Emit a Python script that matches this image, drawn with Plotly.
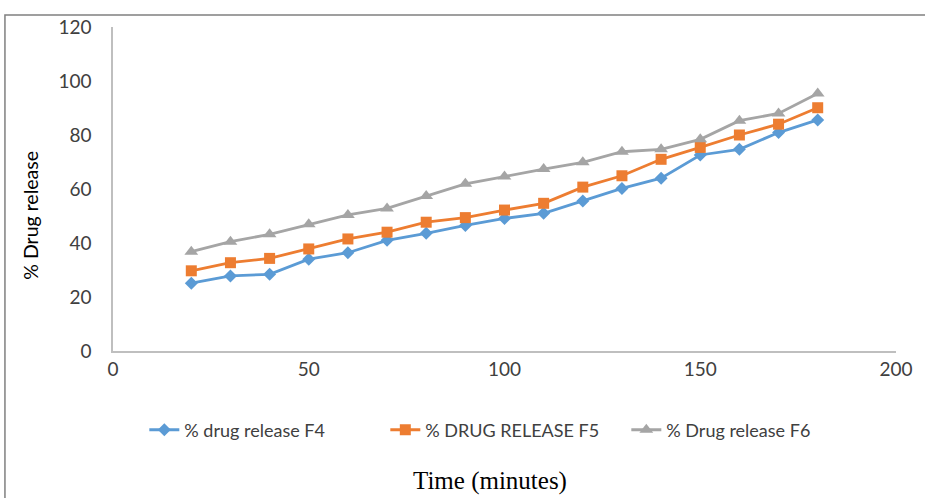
import plotly.graph_objects as go

time_min = [20, 30, 40, 50, 60, 70, 80, 90, 100, 110, 120, 130, 140, 150, 160, 170, 180]
f4 = [25.1, 27.8, 28.4, 34.0, 36.4, 41.0, 43.6, 46.5, 49.1, 51.0, 55.6, 60.2, 64.0, 72.6, 74.7, 80.9, 85.6]
f5 = [29.7, 32.7, 34.3, 37.8, 41.5, 44.0, 47.7, 49.4, 52.2, 54.7, 60.7, 64.9, 71.0, 75.4, 80.0, 84.0, 90.1]
f6 = [36.8, 40.5, 43.2, 46.9, 50.4, 52.8, 57.4, 61.9, 64.6, 67.4, 69.9, 73.8, 74.7, 78.4, 85.3, 88.0, 95.4]
names = ["% drug release F4", "% DRUG RELEASE F5", "% Drug release F6"]
colors = ["#5B9BD5", "#ED7D31", "#A5A5A5"]
symbols = ["diamond", "square", "triangle-up"]
sizes = [10, 11, 12]

fig = go.Figure()
for ys, n, c, s, sz in zip([f4, f5, f6], names, colors, symbols, sizes):
    fig.add_trace(go.Scatter(x=time_min, y=ys, name=n, mode="lines+markers",
                             line=dict(color=c, width=2.8),
                             marker=dict(symbol=s, size=sz, color=c)))

tick_font = dict(family="Lato, sans-serif", size=19, color="#404040")
leg_font = dict(family="Lato, sans-serif", size=18, color="#404040")

fig.update_layout(
    width=925, height=498,
    margin=dict(l=113, r=27, t=27, b=147),
    plot_bgcolor="white", paper_bgcolor="white",
    showlegend=True,
    legend=dict(orientation="h", x=0.04, xanchor="left", y=-0.244, yanchor="middle",
                font=leg_font, itemwidth=30, traceorder="normal",
                entrywidth=196, entrywidthmode="pixels"),
    xaxis=dict(range=[0, 200], tickvals=[0, 50, 100, 150, 200], showgrid=False, zeroline=False,
               showline=True, linecolor="#BFBFBF", linewidth=1.5, ticks="", tickfont=tick_font),
    yaxis=dict(range=[0, 120], tickvals=[0, 20, 40, 60, 80, 100, 120], showgrid=False, zeroline=False,
               showline=True, linecolor="#BFBFBF", linewidth=1.5, ticks="", tickfont=tick_font,
               ticklabelstandoff=16),
    annotations=[
        dict(text="% Drug release", xref="paper", yref="paper", x=-0.105, y=0.42,
             xanchor="center", yanchor="middle", textangle=-90, showarrow=False,
             font=dict(family="Lato, sans-serif", size=19.5, color="#000000")),
        dict(text="Time (minutes)", xref="paper", yref="paper", x=0.482, y=-0.401,
             xanchor="center", yanchor="middle", showarrow=False,
             font=dict(family="Liberation Serif, Times New Roman, serif", size=25, color="#000000")),
    ],
    shapes=[dict(type="rect", xref="paper", yref="paper", x0=-0.138, x1=1.1, y0=-0.6, y1=1.037,
                 line=dict(color="#808080", width=1.5))],
)

fig.write_html("out.html")
